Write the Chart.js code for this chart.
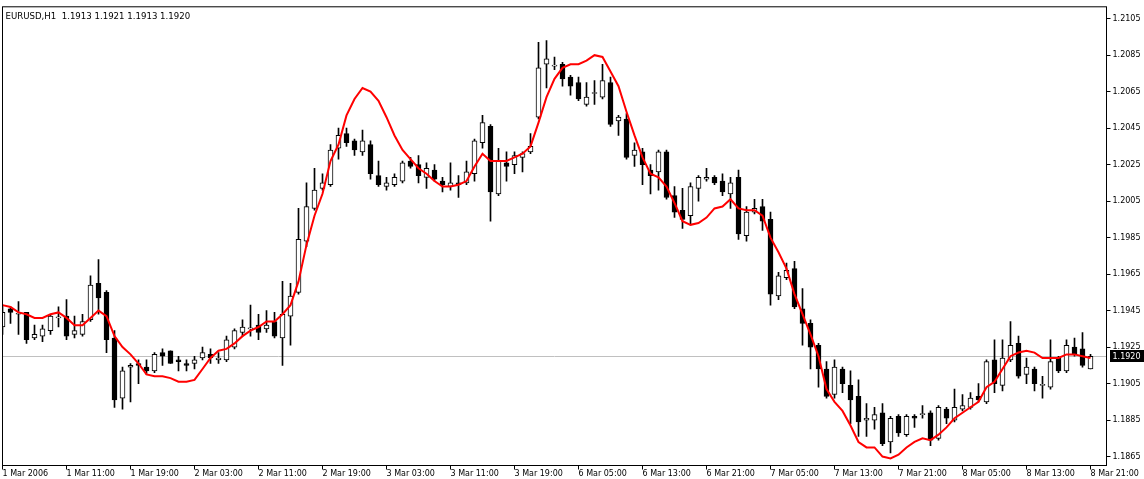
<!DOCTYPE html>
<html>
<head>
<meta charset="utf-8">
<script src="https://cdn.jsdelivr.net/npm/chart.js@4.4.1/dist/chart.umd.min.js"></script>
<style>
    html, body { margin: 0; padding: 0; background: #fff; }
    canvas { display: block; }
</style>
</head>
<body>
<canvas id="priceChart" width="1144" height="479"></canvas>
<script>
// EURUSD H1 candles, 1 Mar 2006 03:00 .. 8 Mar 21:00
const symbolName = 'EURUSD,H1';

const xTickLabels = ['1 Mar 2006', '1 Mar 11:00', '1 Mar 19:00', '2 Mar 03:00', '2 Mar 11:00', '2 Mar 19:00',
    '3 Mar 03:00', '3 Mar 11:00', '3 Mar 19:00', '6 Mar 05:00', '6 Mar 13:00', '6 Mar 21:00',
    '7 Mar 05:00', '7 Mar 13:00', '7 Mar 21:00', '8 Mar 05:00', '8 Mar 13:00', '8 Mar 21:00'];

const yTickValues = [1.2105, 1.2085, 1.2065, 1.2045, 1.2025, 1.2005, 1.1985, 1.1965, 1.1945, 1.1925, 1.1905, 1.1885, 1.1865];

const opens = [1.1936, 1.1946, 1.1943, 1.1944, 1.1930, 1.1931, 1.1934, 1.1941, 1.1942, 1.1932,
    1.1932, 1.1940, 1.1960, 1.1955, 1.1930, 1.1897, 1.1914, 1.1916, 1.1914, 1.1912,
    1.1922, 1.1923, 1.1918, 1.1916, 1.1916, 1.1919, 1.1921, 1.1918, 1.1918, 1.1925,
    1.1933, 1.1935, 1.1937, 1.1935, 1.1939, 1.1930, 1.1942, 1.1955, 1.1983, 1.2001,
    1.2012, 1.2014, 1.2034, 1.2042, 1.2038, 1.2032, 1.2036, 1.2019, 1.2013, 1.2014,
    1.2016, 1.2027, 1.2025, 1.2018, 1.2022, 1.2016, 1.2013, 1.2015, 1.2015, 1.2020,
    1.2037, 1.2046, 1.2009, 1.2026, 1.2025, 1.2029, 1.2032, 1.2051, 1.2080, 1.2079,
    1.2080, 1.2073, 1.2070, 1.2058, 1.2064, 1.2062, 1.2070, 1.2049, 1.2050, 1.2030,
    1.2032, 1.2022, 1.2021, 1.2032, 1.2008, 1.2000, 1.1997, 1.2012, 1.2017, 1.2018,
    1.2016, 1.2009, 1.2018, 1.1986, 1.1999, 1.2002, 1.1995, 1.1953, 1.1963, 1.1968,
    1.1946, 1.1938, 1.1926, 1.1913, 1.1899, 1.1913, 1.1904, 1.1898, 1.1885, 1.1885,
    1.1889, 1.1873, 1.1887, 1.1877, 1.1887, 1.1888, 1.1889, 1.1875, 1.1891, 1.1885,
    1.1891, 1.1892, 1.1898, 1.1895, 1.1918, 1.1904, 1.1918, 1.1927, 1.1910, 1.1913,
    1.1904, 1.1903, 1.1919, 1.1912, 1.1925, 1.1924, 1.1913];

const highs = [1.1948, 1.1947, 1.1950, 1.1944, 1.1937, 1.1937, 1.1943, 1.1947, 1.1951, 1.1942,
    1.1943, 1.1964, 1.1973, 1.1956, 1.1934, 1.1914, 1.1916, 1.1918, 1.1918, 1.1922,
    1.1924, 1.1923, 1.1920, 1.1918, 1.1920, 1.1925, 1.1924, 1.1922, 1.1931, 1.1935,
    1.1940, 1.1948, 1.1943, 1.1945, 1.1944, 1.1961, 1.1960, 1.2001, 1.2015, 1.2023,
    1.2020, 1.2036, 1.2045, 1.2045, 1.2039, 1.2044, 1.2038, 1.2027, 1.2018, 1.2020,
    1.2027, 1.2029, 1.2030, 1.2026, 1.2025, 1.2018, 1.2026, 1.2019, 1.2027, 1.2039,
    1.2052, 1.2047, 1.2034, 1.2032, 1.2032, 1.2032, 1.2042, 1.2092, 1.2093, 1.2084,
    1.2081, 1.2074, 1.2073, 1.2070, 1.2071, 1.2080, 1.2073, 1.2052, 1.2053, 1.2037,
    1.2034, 1.2025, 1.2033, 1.2033, 1.2013, 1.2012, 1.2015, 1.2019, 1.2023, 1.2019,
    1.2020, 1.2018, 1.2022, 1.2002, 1.2006, 1.2006, 1.1999, 1.1966, 1.1971, 1.1972,
    1.1957, 1.1940, 1.1927, 1.1917, 1.1918, 1.1914, 1.1912, 1.1907, 1.1894, 1.1892,
    1.1894, 1.1887, 1.1888, 1.1888, 1.1888, 1.1893, 1.1890, 1.1893, 1.1892, 1.1902,
    1.1899, 1.1900, 1.1905, 1.1918, 1.1929, 1.1929, 1.1939, 1.1931, 1.1919, 1.1914,
    1.1909, 1.1929, 1.1920, 1.1929, 1.1930, 1.1933, 1.1921];

const lows = [1.1932, 1.1938, 1.1932, 1.1927, 1.1929, 1.1928, 1.1932, 1.1936, 1.1929, 1.1930,
    1.1931, 1.1939, 1.1943, 1.1922, 1.1892, 1.1891, 1.1895, 1.1905, 1.1910, 1.1911,
    1.1915, 1.1916, 1.1912, 1.1912, 1.1913, 1.1918, 1.1916, 1.1916, 1.1917, 1.1924,
    1.1931, 1.1931, 1.1929, 1.1933, 1.1930, 1.1915, 1.1926, 1.1954, 1.1980, 1.2000,
    1.2011, 1.2013, 1.2028, 1.2035, 1.2030, 1.2030, 1.2017, 1.2013, 1.2011, 1.2013,
    1.2015, 1.2023, 1.2015, 1.2012, 1.2016, 1.2010, 1.2011, 1.2007, 1.2014, 1.2016,
    1.2034, 1.1994, 1.2008, 1.2016, 1.2020, 1.2021, 1.2031, 1.2050, 1.2067, 1.2077,
    1.2068, 1.2063, 1.2060, 1.2057, 1.2058, 1.2061, 1.2046, 1.2041, 1.2028, 1.2024,
    1.2014, 1.2009, 1.2011, 1.2006, 1.1996, 1.1990, 1.1992, 1.2005, 1.2016, 1.2014,
    1.2008, 1.2001, 1.1984, 1.1983, 1.1998, 1.1989, 1.1948, 1.1951, 1.1962, 1.1946,
    1.1926, 1.1913, 1.1903, 1.1897, 1.1897, 1.1900, 1.1883, 1.1876, 1.1876, 1.1880,
    1.1871, 1.1867, 1.1876, 1.1876, 1.1881, 1.1886, 1.1871, 1.1874, 1.1883, 1.1884,
    1.1890, 1.1891, 1.1895, 1.1894, 1.1900, 1.1901, 1.1917, 1.1908, 1.1905, 1.1901,
    1.1897, 1.1902, 1.1911, 1.1911, 1.1920, 1.1914, 1.1913];

const closes = [1.1944, 1.1944, 1.1943, 1.1929, 1.1932, 1.1935, 1.1942, 1.1941, 1.1931, 1.1934,
    1.1939, 1.1959, 1.1952, 1.1929, 1.1896, 1.1912, 1.1915, 1.1915, 1.1912, 1.1921,
    1.1920, 1.1916, 1.1917, 1.1915, 1.1918, 1.1922, 1.1919, 1.1919, 1.1929, 1.1934,
    1.1936, 1.1935, 1.1933, 1.1937, 1.1931, 1.1943, 1.1953, 1.1984, 1.2002, 1.2011,
    1.2015, 1.2033, 1.2041, 1.2037, 1.2033, 1.2038, 1.2020, 1.2014, 1.2015, 1.2018,
    1.2026, 1.2024, 1.2019, 1.2023, 1.2017, 1.2014, 1.2015, 1.2014, 1.2021, 1.2038,
    1.2048, 1.2010, 1.2027, 1.2024, 1.2030, 1.2031, 1.2035, 1.2078, 1.2083, 1.2079,
    1.2072, 1.2068, 1.2061, 1.2062, 1.2064, 1.2071, 1.2047, 1.2051, 1.2029, 1.2033,
    1.2025, 1.2019, 1.2032, 1.2007, 1.1999, 1.1995, 1.2013, 1.2018, 1.2018, 1.2015,
    1.2010, 1.2015, 1.1987, 1.1999, 1.2001, 1.1994, 1.1954, 1.1964, 1.1967, 1.1947,
    1.1938, 1.1925, 1.1913, 1.1898, 1.1914, 1.1905, 1.1896, 1.1884, 1.1886, 1.1888,
    1.1872, 1.1886, 1.1878, 1.1887, 1.1886, 1.1888, 1.1874, 1.1892, 1.1886, 1.1892,
    1.1893, 1.1897, 1.1896, 1.1917, 1.1905, 1.1919, 1.1926, 1.1909, 1.1914, 1.1905,
    1.1904, 1.1917, 1.1912, 1.1926, 1.1921, 1.1915, 1.1920];

// red moving average
const maValues = [1.1948, 1.1947, 1.1944, 1.1943, 1.1941, 1.1941, 1.1943, 1.1944, 1.1941, 1.1937,
    1.1937, 1.1941, 1.1945, 1.1942, 1.1931, 1.1925, 1.1921, 1.1916, 1.1910, 1.1909,
    1.1909, 1.1908, 1.1906, 1.1906, 1.1907, 1.1913, 1.1919, 1.1923, 1.1924, 1.1927,
    1.1931, 1.1934, 1.1936, 1.1939, 1.1939, 1.1943, 1.1948, 1.1961, 1.1981, 1.1997,
    1.2009, 1.2027, 1.2036, 1.2052, 1.2061, 1.2067, 1.2065, 1.2060, 1.2051, 1.2041,
    1.2033, 1.2028, 1.2023, 1.2020, 1.2016, 1.2013, 1.2013, 1.2014, 1.2016, 1.2024,
    1.2031, 1.2027, 1.2027, 1.2027, 1.2029, 1.2031, 1.2035, 1.2048, 1.2062, 1.2072,
    1.2078, 1.2080, 1.2080, 1.2082, 1.2085, 1.2084, 1.2076, 1.2068, 1.2054, 1.2041,
    1.2029, 1.2020, 1.2018, 1.2013, 1.2004, 1.1994, 1.1992, 1.1993, 1.1996, 1.2001,
    1.2002, 1.2006, 1.2001, 1.2000, 1.2000, 1.1997, 1.1985, 1.1977, 1.1968, 1.1954,
    1.1943, 1.1932, 1.1920, 1.1902, 1.1895, 1.1890, 1.1882, 1.1873, 1.1870, 1.1870,
    1.1865, 1.1864, 1.1866, 1.1870, 1.1873, 1.1875, 1.1874, 1.1877, 1.1881, 1.1886,
    1.1889, 1.1892, 1.1895, 1.1903, 1.1906, 1.1913, 1.1920, 1.1922, 1.1923, 1.1922,
    1.1919, 1.1919, 1.1919, 1.1921, 1.1921, 1.1920, 1.1919];

// chart shift: two empty slots to the right of the last bar
const barLabels = [];
for (let i = 0; i < opens.length + 2; i++) barLabels.push(i);

const axisFont = { family: '"DejaVu Sans", sans-serif', size: 8 };

const lastIdx = closes.length - 1;

const mtOverlay = {
    id: 'mtOverlay',
    beforeDatasetsDraw(chart) {
        const { ctx, chartArea } = chart;
        const y = Math.round(chart.scales.y.getPixelForValue(closes[lastIdx])) + 0.5;
        ctx.save();
        ctx.strokeStyle = '#c0c0c0';
        ctx.lineWidth = 1;
        ctx.beginPath();
        ctx.moveTo(chartArea.left, y);
        ctx.lineTo(chartArea.right, y);
        ctx.stroke();
        ctx.restore();
    },
    afterDraw(chart) {
        const { ctx, chartArea } = chart;
        ctx.save();
        // frame
        ctx.strokeStyle = '#000';
        ctx.lineWidth = 1;
        ctx.strokeRect(chartArea.left, chartArea.top, chartArea.right - chartArea.left, chartArea.bottom - chartArea.top);

        // header text
        ctx.fillStyle = '#000';
        ctx.font = '8.6px "DejaVu Sans", sans-serif';
        ctx.textBaseline = 'middle';
        ctx.textAlign = 'left';
        const head = symbolName + '  ' + [opens[lastIdx], highs[lastIdx], lows[lastIdx], closes[lastIdx]]
            .map(v => v.toFixed(4)).join(' ');
        ctx.fillText(head, chartArea.left + 3, chartArea.top + 9.5);

        // current price box
        const y = Math.round(chart.scales.y.getPixelForValue(closes[lastIdx]));
        ctx.font = '8px "DejaVu Sans", sans-serif';
        ctx.fillStyle = '#000';
        ctx.fillRect(chartArea.right + 3.5, y - 6, 38, 12);
        ctx.fillStyle = '#fff';
        ctx.fillText(closes[lastIdx].toFixed(4), chartArea.right + 6, y + 0.5);
        ctx.restore();
    }
};

new Chart(document.getElementById('priceChart'), {
    type: 'bar',
    data: {
        labels: barLabels,
        datasets: [
            {
                type: 'line',
                label: 'MA',
                data: maValues,
                borderColor: '#ff0000',
                borderWidth: 2,
                pointRadius: 0,
                tension: 0,
                fill: false,
                order: 0
            },
            {
                label: 'Body',
                data: opens.map((o, i) => [o, closes[i]]),
                backgroundColor: opens.map((o, i) => closes[i] >= o ? '#ffffff' : '#000000'),
                borderColor: '#000000',
                borderWidth: 1,
                borderSkipped: false,
                barThickness: 5,
                minBarLength: 1,
                grouped: false,
                order: 1
            },
            {
                label: 'Wick',
                data: lows.map((l, i) => [l, highs[i]]),
                backgroundColor: '#000000',
                borderWidth: 0,
                barThickness: 1,
                grouped: false,
                order: 2
            }
        ]
    },
    options: {
        responsive: false,
        animation: false,
        layout: { padding: { left: 2.5, top: 1.5, right: 0, bottom: 0 } },
        plugins: {
            legend: { display: false },
            tooltip: { enabled: false }
        },
        scales: {
            x: {
                type: 'category',
                offset: false,
                grid: {
                    offset: false,
                    drawOnChartArea: false,
                    tickLength: 4,
                    color: ctx => ctx.index % 8 === 0 ? '#000' : 'rgba(0,0,0,0)'
                },
                border: { display: false },
                ticks: {
                    autoSkip: false,
                    maxRotation: 0,
                    minRotation: 0,
                    align: 'start',
                    padding: 0,
                    color: '#000',
                    font: axisFont,
                    callback: (value, index) => index % 8 === 0 ? xTickLabels[index / 8] : ''
                },
                afterFit: s => { s.height = 13.5; }
            },
            y: {
                position: 'right',
                min: 1.18601,
                max: 1.21115,
                grid: {
                    drawOnChartArea: false,
                    tickLength: 4,
                    color: '#000'
                },
                border: { display: false },
                afterBuildTicks: s => { s.ticks = yTickValues.map(v => ({ value: v })); },
                ticks: {
                    padding: 2,
                    color: '#000',
                    font: axisFont,
                    callback: v => v.toFixed(4)
                },
                afterFit: s => { s.width = 37.5; }
            }
        }
    },
    plugins: [mtOverlay]
});
</script>
</body>
</html>
